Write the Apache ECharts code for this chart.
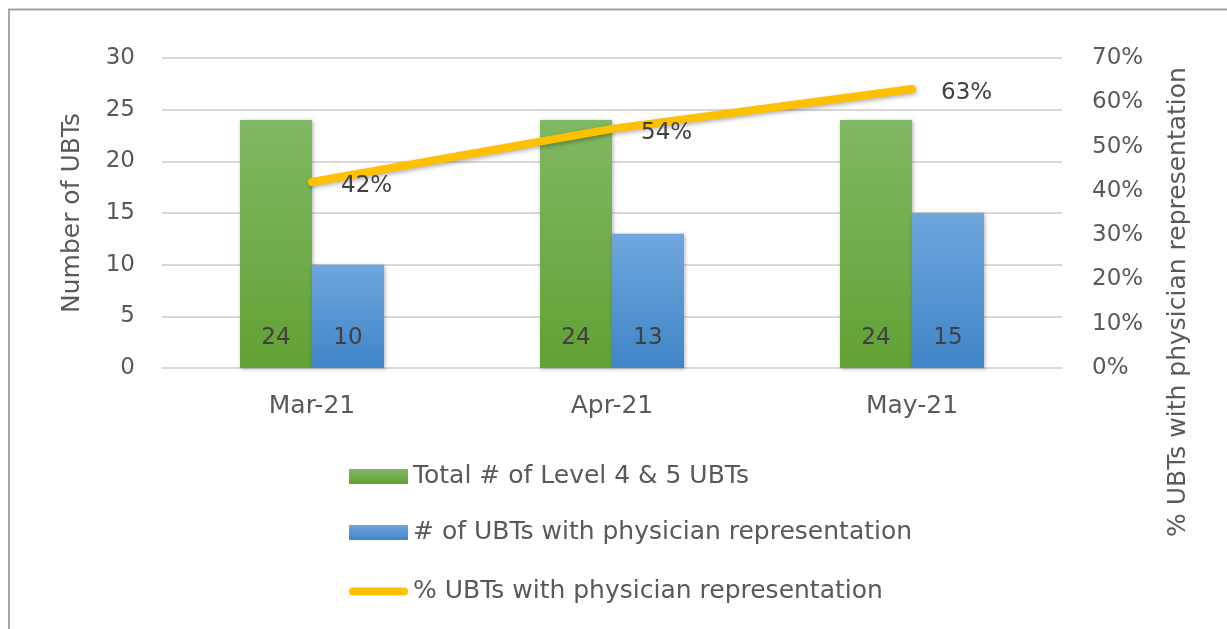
<!DOCTYPE html>
<html>
<head>
<meta charset="utf-8">
<script src="https://cdn.jsdelivr.net/npm/echarts@6/dist/echarts.min.js"></script>
<style>
  html, body { margin: 0; padding: 0; background: #fff; }
  #chart { width: 1227px; height: 629px; }
</style>
</head>
<body>
<div id="chart"></div>
<script>
// chart data
const months = ['Mar-21', 'Apr-21', 'May-21'];
const totalUbts = [24, 24, 24];
const physicianUbts = [10, 13, 15];
const physicianPct = [0.42, 0.54, 0.63];
const seriesNames = [
  'Total # of Level 4 & 5 UBTs',
  '# of UBTs with physician representation',
  '% UBTs with physician representation'
];

const FONT = 'DejaVu Sans';
const TXT = '#595959';
const FS_NUM = 23;   // numbers
const FS_TXT = 25;   // words

function grad(top, bottom) {
  return new echarts.graphic.LinearGradient(0, 0, 0, 1, [
    { offset: 0, color: top },
    { offset: 1, color: bottom }
  ]);
}

var chart = echarts.init(document.getElementById('chart'));

chart.setOption({
  animation: false,
  textStyle: { fontFamily: FONT, color: TXT },
  grid: { left: 162, right: 165, top: 58, bottom: 261 },
  legend: [
    {
      // bar items
      orient: 'vertical',
      left: 344,
      top: 459,
      itemWidth: 59,
      itemHeight: 15,
      itemGap: 31,
      textStyle: { fontFamily: FONT, fontSize: FS_TXT, color: TXT },
      data: [
        { name: seriesNames[0], icon: 'rect' },
        { name: seriesNames[1], icon: 'rect' }
      ]
    },
    {
      // line item, thin capsule icon
      orient: 'vertical',
      left: 344,
      top: 574,
      itemWidth: 59,
      itemHeight: 8,
      textStyle: { fontFamily: FONT, fontSize: FS_TXT, color: TXT },
      data: [
        { name: seriesNames[2], icon: 'path://M4,0 L55,0 A4,4 0 0 1 55,8 L4,8 A4,4 0 0 1 4,0 Z' }
      ]
    }
  ],
  xAxis: {
    type: 'category',
    data: months,
    axisTick: { show: false },
    axisLine: { lineStyle: { color: '#D9D9D9', width: 2 } },
    axisLabel: { margin: 26, fontSize: FS_TXT, color: TXT, fontFamily: FONT }
  },
  yAxis: [
    {
      type: 'value',
      min: 0, max: 30, interval: 5,
      name: 'Number of UBTs',
      nameLocation: 'middle',
      nameGap: 77,
      nameTextStyle: { fontSize: FS_TXT, color: TXT, fontFamily: FONT },
      axisLabel: { margin: 27, fontSize: FS_NUM, color: TXT, fontFamily: FONT },
      splitLine: { lineStyle: { color: '#D9D9D9', width: 2 } },
      axisLine: { show: false },
      axisTick: { show: false }
    },
    {
      type: 'value',
      min: 0, max: 0.7, interval: 0.1,
      position: 'right',
      axisLabel: {
        margin: 30, fontSize: FS_NUM, color: TXT, fontFamily: FONT,
        formatter: function (v) { return Math.round(v * 100) + '%'; }
      },
      splitLine: { show: false },
      axisLine: { show: false },
      axisTick: { show: false }
    }
  ],
  series: [
    {
      name: seriesNames[0],
      type: 'bar',
      data: totalUbts,
      barWidth: 72,
      barGap: '0%',
      itemStyle: {
        color: grad('#80B863', '#62A134'),
        shadowBlur: 4, shadowOffsetX: 1, shadowOffsetY: 1, shadowColor: 'rgba(0,0,0,0.3)'
      },
      label: {
        show: true, position: 'insideBottom', distance: 18,
        fontSize: FS_NUM, color: '#404040', fontFamily: FONT
      }
    },
    {
      name: seriesNames[1],
      type: 'bar',
      data: physicianUbts,
      barWidth: 72,
      barGap: '0%',
      itemStyle: {
        color: grad('#6FA6DD', '#3F85C7'),
        shadowBlur: 4, shadowOffsetX: 1, shadowOffsetY: 1, shadowColor: 'rgba(0,0,0,0.3)'
      },
      label: {
        show: true, position: 'insideBottom', distance: 18,
        fontSize: FS_NUM, color: '#404040', fontFamily: FONT
      }
    },
    {
      name: seriesNames[2],
      type: 'line',
      yAxisIndex: 1,
      data: physicianPct,
      symbol: 'circle',
      symbolSize: 2,
      itemStyle: { color: '#FFC000' },
      lineStyle: {
        color: '#FFC000', width: 8, cap: 'round',
        shadowBlur: 4, shadowOffsetX: 1, shadowOffsetY: 2, shadowColor: 'rgba(0,0,0,0.3)'
      },
      label: {
        show: true, position: 'right', distance: 28, offset: [0, 4],
        fontSize: FS_NUM, color: '#404040', fontFamily: FONT,
        formatter: function (p) { return Math.round(p.value * 100) + '%'; }
      },
      z: 5
    }
  ],
  graphic: [
    {
      type: 'text',
      x: 1178, y: 302,
      rotation: Math.PI / 2,
      style: {
        text: '% UBTs with physician representation',
        fontFamily: FONT, fontSize: FS_TXT, fill: TXT,
        align: 'center', verticalAlign: 'middle'
      }
    },
    {
      type: 'line',
      shape: { x1: 8, y1: 9.5, x2: 1227, y2: 9.5 },
      style: { stroke: '#A6A6A6', lineWidth: 2 }
    },
    {
      type: 'line',
      shape: { x1: 9, y1: 9, x2: 9, y2: 629 },
      style: { stroke: '#A6A6A6', lineWidth: 2 }
    }
  ]
});
</script>
</body>
</html>
